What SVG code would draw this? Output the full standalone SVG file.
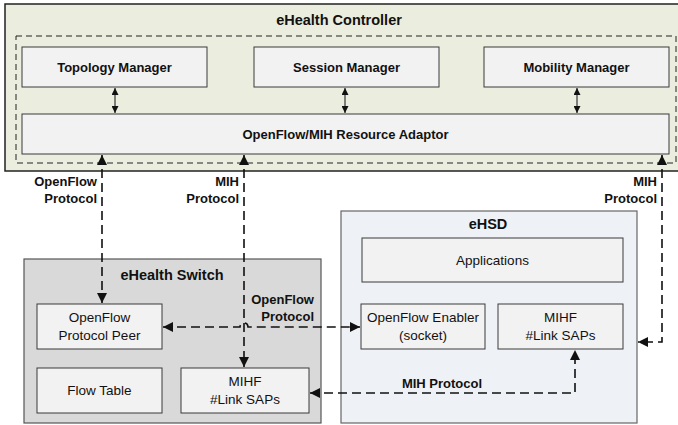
<svg xmlns="http://www.w3.org/2000/svg" width="678" height="425" viewBox="0 0 678 425">
<defs>
<style>
.t{font-family:"Liberation Sans",Arial,sans-serif;fill:#111;}
.b{font-weight:bold;}
.r{font-size:13.5px;}
.box{fill:#f2f2f2;stroke:#3a3a3a;stroke-width:1;}
.dc{fill:none;stroke:#111;stroke-width:1.6;stroke-dasharray:9,5;}
.sc{fill:none;stroke:#111;stroke-width:1;}
</style>
<marker id="ah" viewBox="0 0 10 10" refX="10" refY="5" markerWidth="11" markerHeight="10" markerUnits="userSpaceOnUse" orient="auto-start-reverse">
<path d="M0,0 L10,5 L0,10 z" fill="#111"/>
</marker>
<marker id="as" viewBox="0 0 10 10" refX="10" refY="5" markerWidth="7" markerHeight="7" markerUnits="userSpaceOnUse" orient="auto-start-reverse">
<path d="M0,0 L10,5 L0,10 z" fill="#111"/>
</marker>
</defs>

<g id="controller">
<rect x="5" y="4" width="685" height="167" fill="#ebeddf" stroke="#222" stroke-width="1.5"/>
<text class="t b" x="339" y="25" font-size="14.5" text-anchor="middle">eHealth Controller</text>
<rect x="16" y="36" width="660" height="127" fill="none" stroke="#222" stroke-width="1" stroke-dasharray="6,4"/>
</g>
<g id="topology">
<rect class="box" x="22" y="47" width="185" height="40"/>
<text class="t b" x="114.5" y="71.5" font-size="13" text-anchor="middle">Topology Manager</text>
</g>
<g id="session">
<rect class="box" x="254" y="47" width="185" height="40"/>
<text class="t b" x="346.5" y="71.5" font-size="13" text-anchor="middle">Session Manager</text>
</g>
<g id="mobility">
<rect class="box" x="484" y="47" width="185" height="40"/>
<text class="t b" x="576.5" y="71.5" font-size="13" text-anchor="middle">Mobility Manager</text>
</g>
<g id="adaptor">
<rect class="box" x="22" y="114" width="647" height="40"/>
<text class="t b" x="345.5" y="138.5" font-size="13" text-anchor="middle">OpenFlow/MIH Resource Adaptor</text>
</g>

<g id="switch">
<rect x="24" y="259" width="297" height="164" fill="#d9d9d9" stroke="#555" stroke-width="1.2"/>
<text class="t b" x="172" y="280" font-size="14.5" text-anchor="middle">eHealth Switch</text>
</g>
<g id="of-peer">
<rect class="box" x="37" y="304" width="125" height="45"/>
<text class="t r" x="99.5" y="322" text-anchor="middle">OpenFlow</text>
<text class="t r" x="99.5" y="340" text-anchor="middle">Protocol Peer</text>
</g>
<g id="flow-table">
<rect class="box" x="37" y="368" width="125" height="45"/>
<text class="t r" x="99.5" y="395" text-anchor="middle">Flow Table</text>
</g>
<g id="switch-mihf">
<rect class="box" x="181" y="368" width="128" height="45"/>
<text class="t r" x="245" y="386" text-anchor="middle">MIHF</text>
<text class="t r" x="245" y="404" text-anchor="middle">#Link SAPs</text>
</g>

<g id="ehsd">
<rect x="341" y="211" width="296" height="212" fill="#eef1f6" stroke="#666" stroke-width="1.2"/>
<text class="t b" x="488" y="229" font-size="14.5" text-anchor="middle">eHSD</text>
</g>
<g id="applications">
<rect class="box" x="362" y="238" width="261" height="44"/>
<text class="t r" x="492.5" y="264.5" text-anchor="middle">Applications</text>
</g>
<g id="of-enabler">
<rect class="box" x="361" y="304" width="124" height="45"/>
<text class="t r" x="423" y="322" text-anchor="middle">OpenFlow Enabler</text>
<text class="t r" x="423" y="340" text-anchor="middle">(socket)</text>
</g>
<g id="ehsd-mihf">
<rect class="box" x="498" y="304" width="125" height="45"/>
<text class="t r" x="560.5" y="322" text-anchor="middle">MIHF</text>
<text class="t r" x="560.5" y="340" text-anchor="middle">#Link SAPs</text>
</g>

<g id="connectors">
<line class="sc" x1="115" y1="88" x2="115" y2="113" marker-start="url(#as)" marker-end="url(#as)"/>
<line class="sc" x1="345" y1="88" x2="345" y2="113" marker-start="url(#as)" marker-end="url(#as)"/>
<line class="sc" x1="577" y1="88" x2="577" y2="113" marker-start="url(#as)" marker-end="url(#as)"/>
<path class="dc" d="M102,155 V303" marker-start="url(#ah)" marker-end="url(#ah)"/>
<path class="dc" d="M244,155 V367" marker-start="url(#ah)" marker-end="url(#ah)"/>
<path class="dc" d="M662,155 V342 H638" marker-start="url(#ah)" marker-end="url(#ah)"/>
<path class="dc" d="M163,327 H240 A4,4 0 0 1 248,327 H360" marker-start="url(#ah)" marker-end="url(#ah)"/>
<path class="dc" d="M310,393 H575 V350" marker-start="url(#ah)" marker-end="url(#ah)"/>
</g>

<g id="labels">
<text class="t b" x="97" y="186" font-size="13" text-anchor="end">OpenFlow</text>
<text class="t b" x="97" y="203" font-size="13" text-anchor="end">Protocol</text>
<text class="t b" x="239" y="186" font-size="13" text-anchor="end">MIH</text>
<text class="t b" x="239" y="203" font-size="13" text-anchor="end">Protocol</text>
<text class="t b" x="657" y="186" font-size="13" text-anchor="end">MIH</text>
<text class="t b" x="657" y="203" font-size="13" text-anchor="end">Protocol</text>
<text class="t b" x="314" y="304" font-size="13" text-anchor="end">OpenFlow</text>
<text class="t b" x="314" y="321" font-size="13" text-anchor="end">Protocol</text>
<text class="t b" x="442" y="388" font-size="13" text-anchor="middle">MIH Protocol</text>
</g>
</svg>
